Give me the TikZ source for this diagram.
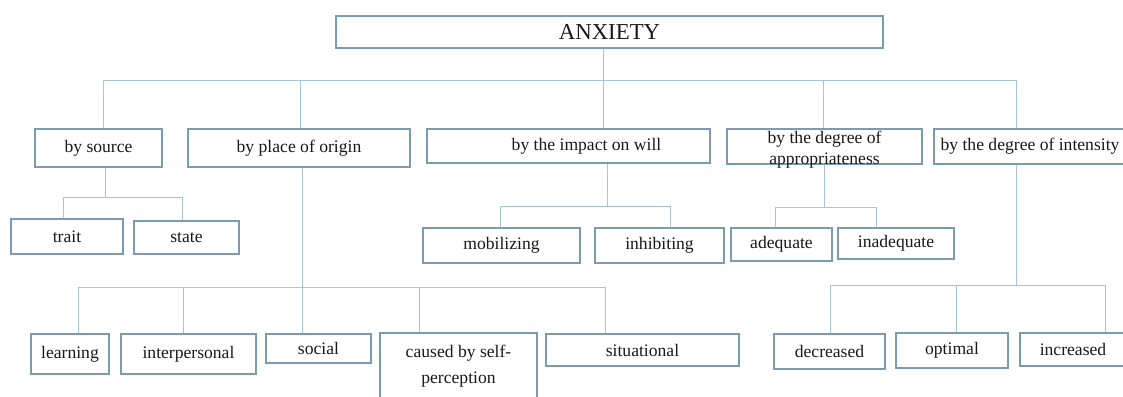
\documentclass[tikz,border=0pt]{standalone}
\usepackage{fontspec}
\setmainfont{Liberation Serif}
\definecolor{boxc}{RGB}{122,156,178}
\definecolor{lnc}{RGB}{168,196,211}
\definecolor{txtc}{RGB}{25,25,25}
\tikzset{
  box/.style={draw=boxc, line width=1.3pt, fill=white, inner sep=0pt, text=txtc,
    font=\fontsize{17.6}{21}\selectfont},
  conn/.style={draw=lnc, line width=1pt}
}
\newcommand\bx[6]{\node[box, minimum width={#4pt-#2pt}, minimum height={#5pt-#3pt}] (#1) at ({(#2+#4)/2},{(#3+#5)/2}) {#6};}
\begin{document}
\begin{tikzpicture}[x=1pt,y=-1pt]
\fill[white] (0,0) rectangle (1123,396);
\useasboundingbox (0,0) rectangle (1123,396);
% level 0
\node[box, font=\fontsize{22.8}{27}\selectfont, minimum width=547pt, minimum height=32pt] (anx) at (609.5,32) {ANXIETY};
% level 1
\bx{src}{35}{129}{162}{167}{by source}
\bx{org}{188}{129}{410}{167}{by place of origin}
\bx{imp}{427}{129}{710}{163}{\hspace*{36pt}by the impact on will}
\bx{app}{727}{129}{922}{164}{\smash{\raisebox{-8pt}{\begin{tabular}{@{}c@{}}by the degree of\\appropriateness\end{tabular}}}}
\bx{ins}{934}{129}{1126}{164}{by the degree of intensity}
% source children
\bx{trt}{11}{219}{123}{254}{trait}
\bx{sta}{134}{221}{239}{254}{state}
% impact children
\bx{mob}{423}{228}{580}{263}{mobilizing}
\bx{inh}{595}{228}{724}{263}{inhibiting}
% appropriateness children
\bx{adq}{731}{228}{832}{261}{adequate}
\bx{ina}{838}{228}{954}{259}{inadequate}
% origin children
\bx{lrn}{31}{334}{109}{374}{learning}
\bx{ipr}{121}{334}{256}{374}{interpersonal}
\bx{soc}{266}{334}{371}{363}{social}
\node[box, align=center, font=\fontsize{17.6}{26}\selectfont, minimum width=157pt, minimum height=67pt] (cau) at (458.5,366.5) {caused by self-\\perception};
\bx{sit}{546}{334}{739}{366}{situational}
% intensity children
\bx{dec}{774}{334}{885}{369}{decreased}
\bx{opt}{896}{333}{1008}{368}{optimal}
\bx{inc}{1020}{333}{1126}{366}{increased}
% junction coordinates
\coordinate (m0) at (603,80);
\coordinate (d1) at (103,80);
\coordinate (d2) at (300,80);
\coordinate (d4) at (823,80);
\coordinate (d5) at (1016,80);
\coordinate (s0) at (105,197);
\coordinate (s1) at (63,197);
\coordinate (s2) at (182,197);
\coordinate (i0) at (607,206);
\coordinate (i1) at (500,206);
\coordinate (i2) at (670,206);
\coordinate (a0) at (824,207);
\coordinate (a1) at (775,207);
\coordinate (a2) at (876,207);
\coordinate (o0) at (302,287);
\coordinate (o1) at (78,287);
\coordinate (o2) at (183,287);
\coordinate (o4) at (419,287);
\coordinate (o5) at (605,287);
\coordinate (n0) at (1016,285);
\coordinate (n1) at (830,285);
\coordinate (n2) at (956,285);
\coordinate (n3) at (1105,285);
% main bus
\draw[conn] (anx.south -| m0) -- (imp.north -| m0);
\draw[conn] (src.north -| d1) -- (d1) -- (d5) -- (ins.north -| d5);
\draw[conn] (d2) -- (org.north -| d2);
\draw[conn] (d4) -- (app.north -| d4);
% source subtree
\draw[conn] (src.south -| s0) -- (s0);
\draw[conn] (trt.north -| s1) -- (s1) -- (s2) -- (sta.north -| s2);
% impact subtree
\draw[conn] (imp.south -| i0) -- (i0);
\draw[conn] (mob.north -| i1) -- (i1) -- (i2) -- (inh.north -| i2);
% appropriateness subtree
\draw[conn] (app.south -| a0) -- (a0);
\draw[conn] (adq.north -| a1) -- (a1) -- (a2) -- (ina.north -| a2);
% origin subtree
\draw[conn] (org.south -| o0) -- (soc.north -| o0);
\draw[conn] (lrn.north -| o1) -- (o1) -- (o5) -- (sit.north -| o5);
\draw[conn] (o2) -- (ipr.north -| o2);
\draw[conn] (o4) -- (cau.north -| o4);
% intensity subtree
\draw[conn] (ins.south -| n0) -- (n0);
\draw[conn] (dec.north -| n1) -- (n1) -- (n3) -- (inc.north -| n3);
\draw[conn] (n2) -- (opt.north -| n2);
\end{tikzpicture}
\end{document}
